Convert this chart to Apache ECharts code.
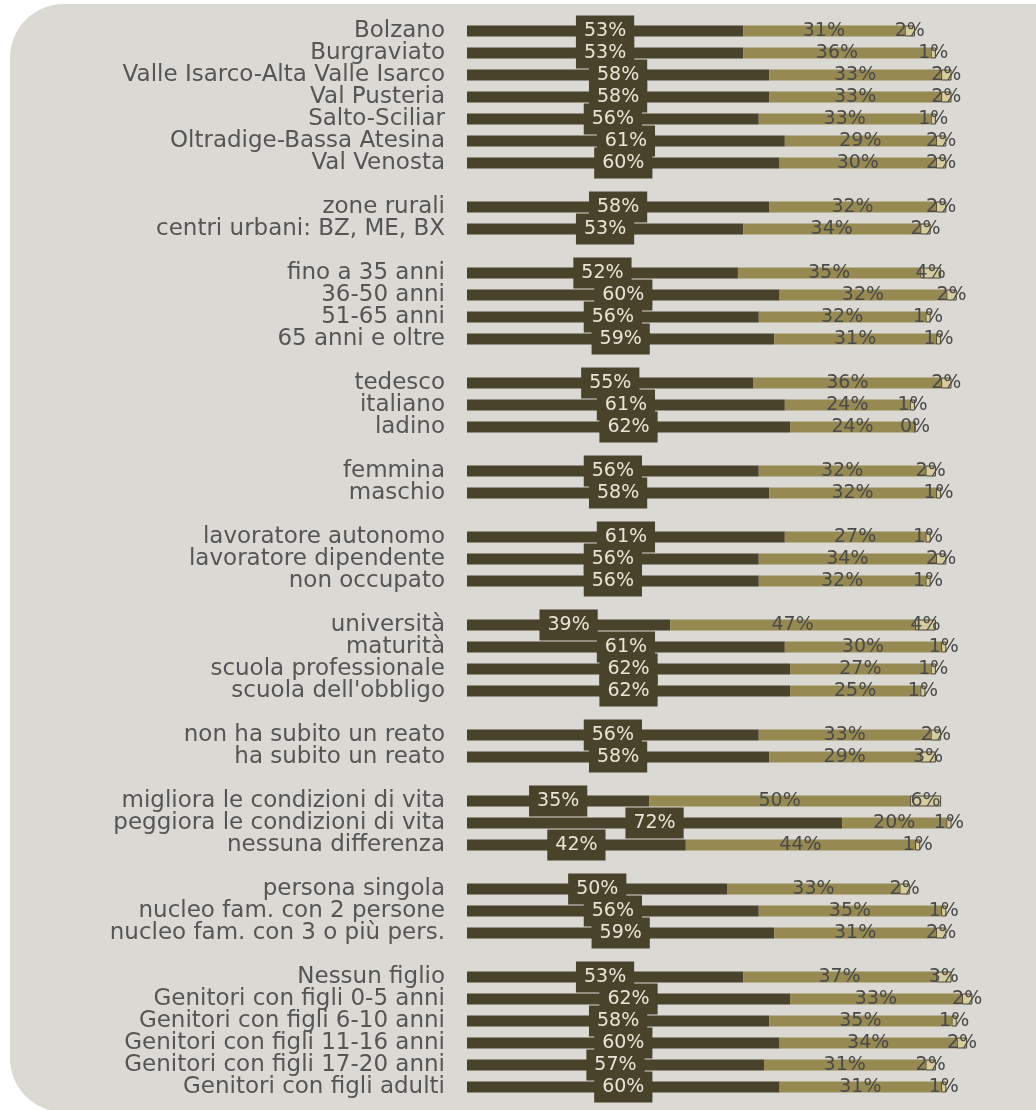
<!DOCTYPE html>
<html>
<head>
<meta charset="utf-8">
<script src="https://cdn.jsdelivr.net/npm/echarts@6/dist/echarts.min.js"></script>
<style>
  html, body { margin: 0; padding: 0; background: #ffffff; }
  #chart { width: 1036px; height: 1110px; }
</style>
</head>
<body>
<div id="chart"></div>
<script>
// '' marks an empty separator row between groups
const categories = [
  'Bolzano', 'Burgraviato', 'Valle Isarco-Alta Valle Isarco', 'Val Pusteria', 'Salto-Sciliar', 'Oltradige-Bassa Atesina', 'Val Venosta', '',
  'zone rurali', 'centri urbani: BZ, ME, BX', '',
  'fino a 35 anni', '36-50 anni', '51-65 anni', '65 anni e oltre', '',
  'tedesco', 'italiano', 'ladino', '',
  'femmina', 'maschio', '',
  'lavoratore autonomo', 'lavoratore dipendente', 'non occupato', '',
  'università', 'maturità', 'scuola professionale', "scuola dell'obbligo", '',
  'non ha subito un reato', 'ha subito un reato', '',
  'migliora le condizioni di vita', 'peggiora le condizioni di vita', 'nessuna differenza', '',
  'persona singola', 'nucleo fam. con 2 persone', 'nucleo fam. con 3 o più pers.', '',
  'Nessun figlio', 'Genitori con figli 0-5 anni', 'Genitori con figli 6-10 anni', 'Genitori con figli 11-16 anni', 'Genitori con figli 17-20 anni', 'Genitori con figli adulti'
];
const darkValues = [
  53, 53, 58, 58, 56, 61, 60, null,
  58, 53, null,
  52, 60, 56, 59, null,
  55, 61, 62, null,
  56, 58, null,
  61, 56, 56, null,
  39, 61, 62, 62, null,
  56, 58, null,
  35, 72, 42, null,
  50, 56, 59, null,
  53, 62, 58, 60, 57, 60
];
const oliveValues = [
  31, 36, 33, 33, 33, 29, 30, null,
  32, 34, null,
  35, 32, 32, 31, null,
  36, 24, 24, null,
  32, 32, null,
  27, 34, 32, null,
  47, 30, 27, 25, null,
  33, 29, null,
  50, 20, 44, null,
  33, 35, 31, null,
  37, 33, 35, 34, 31, 31
];
const smallValues = [
  2, 1, 2, 2, 1, 2, 2, null,
  2, 2, null,
  4, 2, 1, 1, null,
  2, 1, 0, null,
  2, 1, null,
  1, 2, 1, null,
  4, 1, 1, 1, null,
  2, 3, null,
  6, 1, 1, null,
  2, 1, 2, null,
  3, 2, 1, 2, 2, 1
];

// make blank separator names unique so the category axis keeps every row
const axisCategories = categories.map((c, i) => c === '' ? '\u200b'.repeat(i + 1) : c);

const chart = echarts.init(document.getElementById('chart'), null, { renderer: 'canvas' });
const FONT = '"DejaVu Sans", Verdana, sans-serif';

chart.setOption({
  animation: false,
  backgroundColor: '#ffffff',
  textStyle: { fontFamily: FONT },
  graphic: [{
    type: 'rect',
    z: -10,
    silent: true,
    shape: { x: 10, y: 4, width: 1080, height: 1108, r: 54 },
    style: { fill: '#dbd9d4' }
  }],
  grid: { left: 467, right: 48, top: 20, height: 1078 },
  xAxis: { type: 'value', min: 0, max: 100, show: false },
  yAxis: {
    type: 'category',
    inverse: true,
    data: axisCategories,
    axisLine: { show: false },
    axisTick: { show: false },
    splitLine: { show: false },
    axisLabel: { interval: 0, fontSize: 23, color: '#555555', margin: 22, fontFamily: FONT }
  },
  series: [
    {
      type: 'bar', stack: 'a', barWidth: 11, data: darkValues,
      itemStyle: { color: '#4a432c' },
      label: {
        show: true, position: 'inside', formatter: '{c}%',
        backgroundColor: '#4a432c', padding: [6, 8], color: '#e8e4d6',
        fontSize: 19, fontFamily: FONT
      }
    },
    {
      type: 'bar', stack: 'a', barWidth: 11, data: oliveValues,
      itemStyle: { color: '#968a52' },
      label: {
        show: true, position: 'inside', formatter: '{c}%',
        color: '#4a4a4a', fontSize: 19, fontFamily: FONT
      }
    },
    {
      type: 'bar', stack: 'a', barWidth: 11, data: smallValues,
      itemStyle: { color: '#d6cc9e', borderColor: '#4a432c', borderWidth: 1 },
      label: {
        show: true, position: 'inside', formatter: '{c}%',
        color: '#4a4a4a', fontSize: 19, fontFamily: FONT
      }
    }
  ]
});
</script>
</body>
</html>
